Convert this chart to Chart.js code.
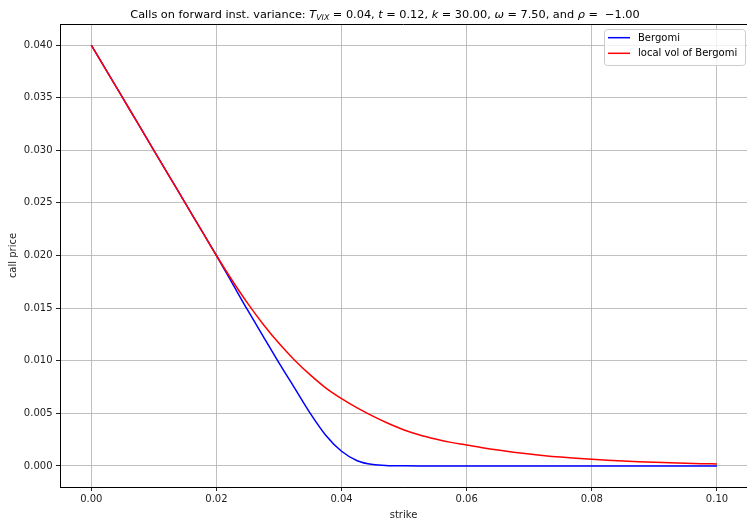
<!DOCTYPE html>
<html>
<head>
<meta charset="utf-8">
<script src="https://cdn.jsdelivr.net/npm/chart.js@4"></script>
<style>
  html, body { margin: 0; padding: 0; background: #fff; }
  #wrap { width: 747px; height: 521px; }
</style>
</head>
<body>
<div id="wrap"><canvas id="chart" width="747" height="521"></canvas></div>
<script>
// strikes (x)
const strikes = [
    0, 0.0025, 0.005, 0.0075, 0.01, 0.0125, 0.015, 0.0175, 0.02, 0.0225,
    0.025, 0.0275, 0.03, 0.0325, 0.035, 0.0375, 0.04, 0.0425, 0.045, 0.0475,
    0.05, 0.0525, 0.055, 0.0575, 0.06, 0.0625, 0.065, 0.0675, 0.07, 0.0725,
    0.075, 0.0775, 0.08, 0.0825, 0.085, 0.0875, 0.09, 0.0925, 0.095, 0.0975, 0.1
];

// call prices, Bergomi
const bergomi = [
    0.04, 0.0375, 0.035, 0.0325, 0.03, 0.0275, 0.025, 0.0225, 0.02, 0.0174,
    0.0148, 0.0123, 0.0098, 0.0074, 0.0050, 0.0029, 0.0014, 0.0005, 0.00013, 0.00003,
    0.00001, 0, 0, 0, 0, 0, 0, 0, 0, 0,
    0, 0, 0, 0, 0, 0, 0, 0, 0, 0, 0
];

// call prices, local vol of Bergomi
const localVol = [
    0.04, 0.0375, 0.035, 0.0325, 0.03, 0.0275, 0.025, 0.0225, 0.02, 0.01765,
    0.01545, 0.01345, 0.01165, 0.01005, 0.00865, 0.0074, 0.0064, 0.00552, 0.00474, 0.00404,
    0.00342, 0.00294, 0.00256, 0.00224, 0.0020, 0.00174, 0.00151, 0.00131, 0.00113, 0.00097,
    0.00084, 0.00073, 0.00063, 0.00054, 0.000465, 0.0004, 0.000345, 0.000295, 0.000255, 0.00022, 0.00019
];

const xTicks = [0, 0.02, 0.04, 0.06, 0.08, 0.10];
const yTicks = [0, 0.005, 0.010, 0.015, 0.020, 0.025, 0.030, 0.035, 0.040];

const FONT = '"DejaVu Sans", sans-serif';

const toPoints = (ys) => strikes.map((x, i) => ({ x: x, y: ys[i] }));

// title with the math bits in oblique, drawn by hand
const titlePlugin = {
    id: 'mplTitle',
    afterDraw(chart) {
        const ctx = chart.ctx;
        const size = 11.3;
        const pieces = [
            ['Calls on forward inst. variance: ', 'n'],
            ['T', 'i'], ['VIX', 's'], [' = 0.04, ', 'n'],
            ['t', 'i'], [' = 0.12, ', 'n'],
            ['k', 'i'], [' = 30.00, ', 'n'],
            ['\u03c9', 'i'], [' = 7.50, and ', 'n'],
            ['\u03c1', 'i'], [' =  \u22121.00', 'n']
        ];
        const fontFor = (s) => {
            if (s === 'n') return size + 'px ' + FONT;
            if (s === 'i') return 'oblique ' + size + 'px ' + FONT;
            return 'oblique ' + (size * 0.7).toFixed(1) + 'px ' + FONT;
        };
        ctx.save();
        ctx.fillStyle = '#000';
        ctx.textBaseline = 'alphabetic';
        let total = 0;
        pieces.forEach(p => { ctx.font = fontFor(p[1]); total += ctx.measureText(p[0]).width; });
        let x = 385 - total / 2;
        const base = 17.5;
        pieces.forEach(p => {
            ctx.font = fontFor(p[1]);
            ctx.fillText(p[0], x, p[1] === 's' ? base + 2.5 : base);
            x += ctx.measureText(p[0]).width;
        });
        ctx.restore();
    }
};

// top spine + legend box in the top right corner
const framePlugin = {
    id: 'mplFrame',
    afterDraw(chart) {
        const ctx = chart.ctx;
        const a = chart.chartArea;
        ctx.save();
        ctx.strokeStyle = '#000';
        ctx.lineWidth = 1;
        ctx.beginPath();
        ctx.moveTo(a.left, a.top + 0.5);
        ctx.lineTo(a.right, a.top + 0.5);
        ctx.stroke();

        const bx = 604.5, by = 29.5, bw = 141, bh = 36;
        ctx.fillStyle = 'rgba(255,255,255,0.8)';
        ctx.strokeStyle = '#cccccc';
        ctx.beginPath();
        ctx.roundRect(bx, by, bw, bh, 3);
        ctx.fill();
        ctx.stroke();

        ctx.font = '10px ' + FONT;
        ctx.textBaseline = 'middle';
        const legendOrder = [0, 1];
        legendOrder.forEach((di, row) => {
            const ds = chart.data.datasets[di];
            const y = 37.7 + row * 15.6;
            ctx.strokeStyle = ds.borderColor;
            ctx.lineWidth = 1.5;
            ctx.beginPath();
            ctx.moveTo(608, y);
            ctx.lineTo(630, y);
            ctx.stroke();
            ctx.fillStyle = '#000';
            ctx.fillText(ds.label, 638, y + 0.5);
        });
        ctx.restore();
    }
};

new Chart(document.getElementById('chart'), {
    type: 'line',
    data: {
        datasets: [
            {
                label: 'Bergomi',
                data: toPoints(bergomi),
                borderColor: '#0000ff',
                borderWidth: 1.5,
                pointRadius: 0,
                cubicInterpolationMode: 'monotone',
                order: 1
            },
            {
                label: 'local vol of Bergomi',
                data: toPoints(localVol),
                borderColor: '#ff0000',
                borderWidth: 1.5,
                pointRadius: 0,
                cubicInterpolationMode: 'monotone',
                order: 0
            }
        ]
    },
    options: {
        responsive: false,
        animation: false,
        layout: { padding: { top: 24, right: 0, left: 0, bottom: 0 } },
        plugins: {
            legend: { display: false },
            tooltip: { enabled: false },
            title: { display: false }
        },
        scales: {
            x: {
                type: 'linear',
                min: -0.005,
                max: 0.1048,
                afterBuildTicks: (s) => { s.ticks = xTicks.map(v => ({ value: v })); },
                afterFit: (s) => { s.height = 34; },
                ticks: {
                    color: '#222',
                    font: { family: FONT, size: 10 },
                    padding: 2,
                    maxRotation: 0,
                    callback: (v) => v.toFixed(2)
                },
                grid: { color: '#b0b0b0', lineWidth: 0.8, tickLength: 4, tickColor: '#222', tickWidth: 1 },
                border: { display: true, color: '#000', width: 1 },
                title: {
                    display: true,
                    text: 'strike',
                    color: '#222',
                    font: { family: FONT, size: 10 },
                    padding: { top: 0, bottom: 0 }
                }
            },
            y: {
                type: 'linear',
                min: -0.002,
                max: 0.042,
                afterBuildTicks: (s) => { s.ticks = yTicks.map(v => ({ value: v })); },
                afterFit: (s) => { s.width = 60; },
                ticks: {
                    color: '#222',
                    font: { family: FONT, size: 10 },
                    padding: 3.5,
                    callback: (v) => v.toFixed(3)
                },
                grid: { color: '#b0b0b0', lineWidth: 0.8, tickLength: 4, tickColor: '#222', tickWidth: 1 },
                border: { display: true, color: '#000', width: 1 },
                title: {
                    display: true,
                    text: 'call price',
                    color: '#222',
                    font: { family: FONT, size: 10 },
                    padding: { top: 7, bottom: 0 }
                }
            }
        }
    },
    plugins: [titlePlugin, framePlugin]
});
</script>
</body>
</html>
